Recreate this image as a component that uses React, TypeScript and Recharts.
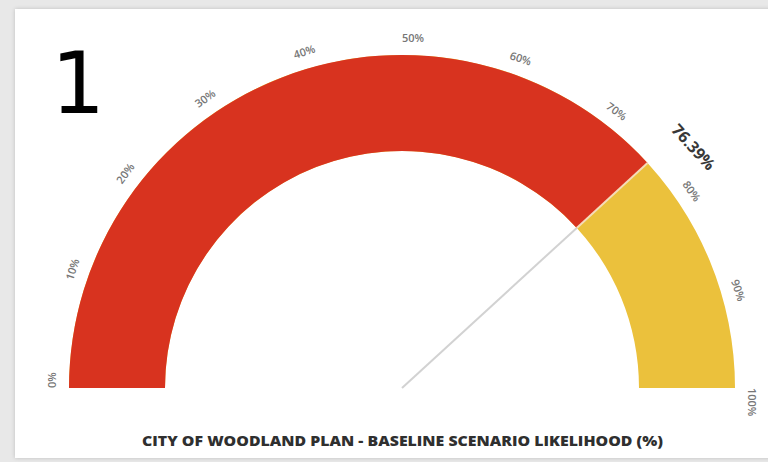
import React from 'react';
import { RadialBarChart, RadialBar, PolarAngleAxis } from 'recharts';

// ---- data ----
const categories = ['Baseline scenario likelihood'];
const likelihoodValues = [76.39];
const valueLabels = ['76.39%'];
const tickValues = [0, 10, 20, 30, 40, 50, 60, 70, 80, 90, 100];
const tickLabels = ['0%', '10%', '20%', '30%', '40%', '50%', '60%', '70%', '80%', '90%', '100%'];
const titleText = 'CITY OF WOODLAND PLAN - BASELINE SCENARIO LIKELIHOOD (%)';
const panelNumber = '1';

const data = categories.map((name, i) => ({ name, value: likelihoodValues[i], label: valueLabels[i] }));

// ---- layout ----
const W = 768;
const H = 462;
const CX = 402;
const CY = 388;
const INNER = 237;
const OUTER = 333;
const TICK_R = 346;
const VALUE_R = 372;
const RED = '#D8331F';
const YELLOW = '#EBC13C';
const RAD = Math.PI / 180;

const polar = (cx: number, cy: number, r: number, deg: number) => ({
  x: cx + r * Math.cos(deg * RAD),
  y: cy - r * Math.sin(deg * RAD),
});

function AngleTick(props: any) {
  const { payload, x, y } = props;
  const cx = typeof props.cx === 'number' ? props.cx : CX;
  const cy = typeof props.cy === 'number' ? props.cy : CY;
  const deg = payload && typeof payload.coordinate === 'number' ? payload.coordinate : Math.atan2(cy - y, x - cx) / RAD;
  const p = polar(cx, cy, TICK_R, deg);
  const idx = tickValues.indexOf(payload.value);
  return (
    <text
      x={p.x}
      y={p.y}
      transform={`rotate(${90 - deg} ${p.x} ${p.y})`}
      textAnchor="start"
      fontSize={11}
      fontWeight={600}
      fill="#767676"
      fontFamily="'Open Sans', sans-serif"
    >
      {idx >= 0 ? tickLabels[idx] : ''}
    </text>
  );
}

function NeedleLabel(props: any) {
  const vb = props.viewBox;
  if (!vb || typeof vb.cx !== 'number') return null;
  const { cx, cy, innerRadius, outerRadius, endAngle } = vb;
  const needleEnd = polar(cx, cy, innerRadius, endAngle);
  const b2 = polar(cx, cy, outerRadius, endAngle);
  const labelAngle = endAngle + 1.3;
  const lp = polar(cx, cy, VALUE_R, labelAngle);
  const idx = typeof props.index === 'number' ? props.index : 0;
  return (
    <g>
      <line x1={cx} y1={cy} x2={needleEnd.x} y2={needleEnd.y} stroke="#d2d2d2" strokeWidth={2} />
      <line x1={needleEnd.x} y1={needleEnd.y} x2={b2.x} y2={b2.y} stroke="#f5dcb8" strokeWidth={2} />
      <text
        x={lp.x}
        y={lp.y}
        transform={`rotate(${90 - endAngle} ${lp.x} ${lp.y})`}
        textAnchor="start"
        fontSize={16}
        fontWeight={700}
        fill="#383838"
        fontFamily="'Open Sans', sans-serif"
      >
        {valueLabels[idx]}
      </text>
    </g>
  );
}

export default function App() {
  return (
    <div style={{ position: 'absolute', left: 0, top: 0, width: W, height: H, background: '#e8e8e8', overflow: 'hidden' }}>
      <div
        style={{
          position: 'absolute',
          left: 15,
          top: 9,
          width: 770,
          height: 449,
          background: '#ffffff',
          boxShadow: '0 0 4px rgba(0,0,0,0.18)',
        }}
      />
      <div style={{ position: 'absolute', left: 0, top: 0 }}>
        <RadialBarChart
          width={W}
          height={H}
          cx={CX}
          cy={CY}
          innerRadius={INNER}
          outerRadius={OUTER}
          startAngle={180}
          endAngle={0}
          data={data}
          barCategoryGap={0}
          margin={{ top: 0, right: 0, bottom: 0, left: 0 }}
        >
          <PolarAngleAxis
            type="number"
            domain={[0, 100]}
            ticks={tickValues}
            tick={<AngleTick />}
            axisLine={false}
            tickLine={false}
          />
          <RadialBar
            dataKey="value"
            fill={RED}
            background={{ fill: YELLOW }}
            isAnimationActive={false}
            label={NeedleLabel}
          />
        </RadialBarChart>
      </div>
      <svg width={W} height={H} style={{ position: 'absolute', left: 0, top: 0, pointerEvents: 'none' }}>
        <text x={51} y={113} fontSize={85} fontFamily="'DejaVu Sans', sans-serif" fill="#000">
          {panelNumber}
        </text>
        <text
          x={142}
          y={446}
          textAnchor="start"
          textLength={521}
          lengthAdjust="spacingAndGlyphs"
          fontSize={14}
          fontWeight={800}
          fill="#2f2f2f"
          fontFamily="'Open Sans', sans-serif"
        >
          {titleText}
        </text>
      </svg>
    </div>
  );
}
